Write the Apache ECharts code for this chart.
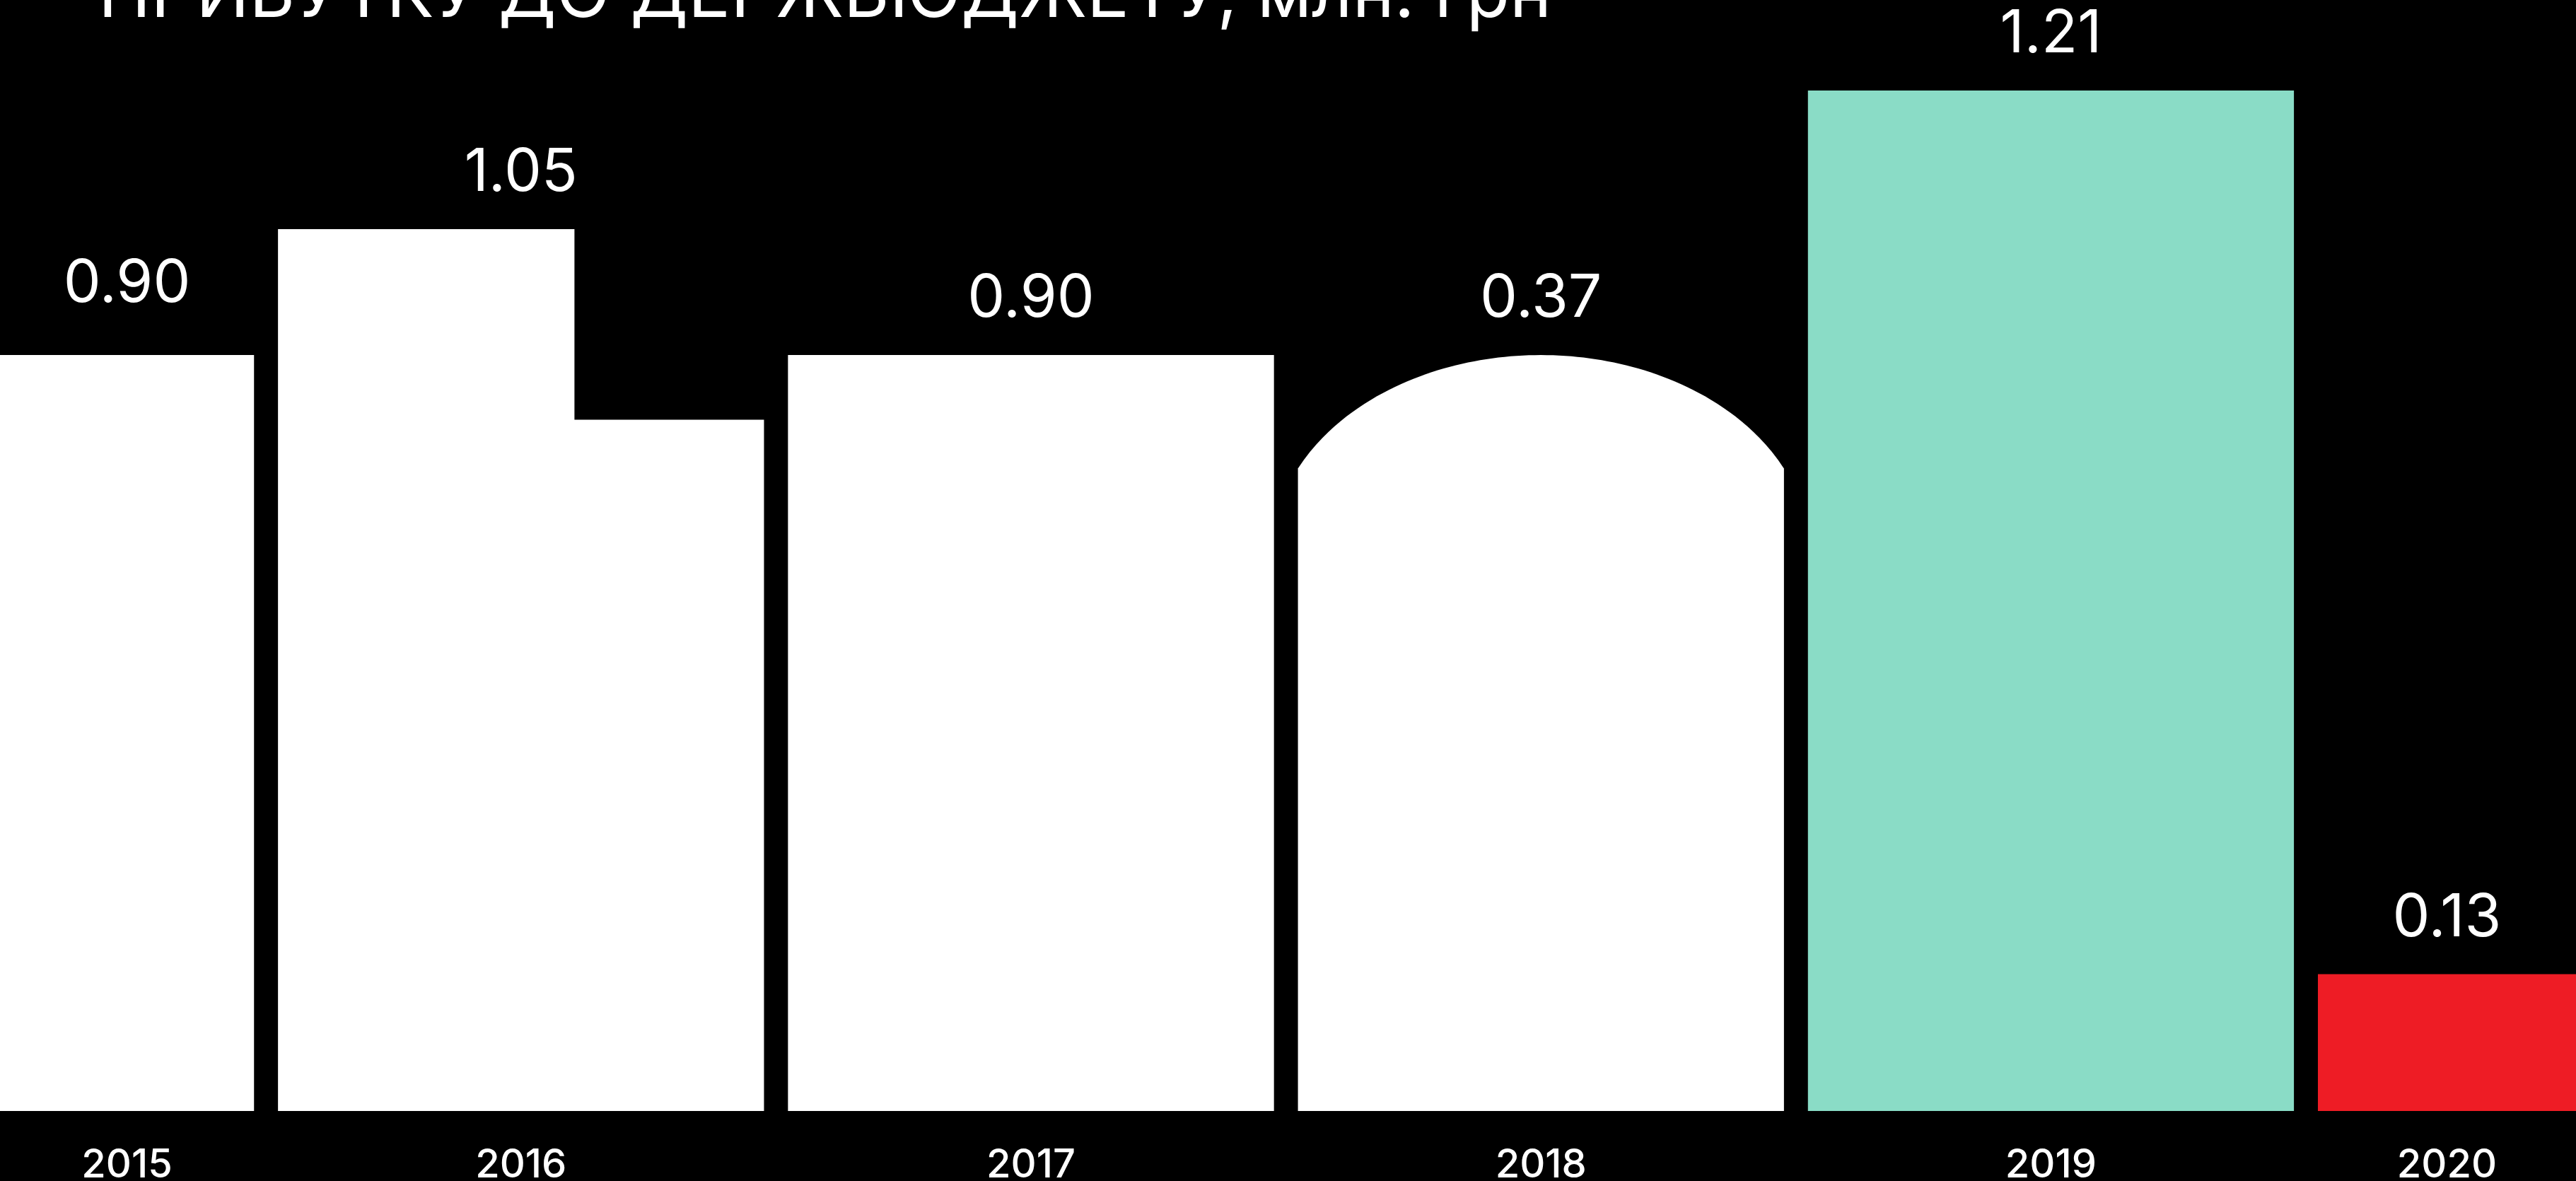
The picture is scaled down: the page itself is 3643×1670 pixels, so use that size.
<!DOCTYPE html>
<html>
<head>
<meta charset="utf-8">
<script src="https://cdn.jsdelivr.net/npm/echarts@6/dist/echarts.min.js"></script>
<style>
html,body{margin:0;padding:0;background:#000;}
#chart{width:3643px;height:1670px;}
</style>
</head>
<body>
<div id="chart"></div>
<script>
// ---- data ----
const categories = ['2015', '2016', '2017', '2018', '2019', '2020'];
// printed values, млн. грн
const values = [0.90, 1.05, 0.90, 0.37, 1.21, 0.13];
// height of each shape as drawn in the infographic (same units)
const drawnHeights = [0.90, 1.05, 0.90, 0.90, 1.215, 0.163];
// lower level of stepped / arched shapes (2016 step, 2018 arch shoulders)
const lowerHeights = [null, 0.823, null, 0.765, null, null];
const titleText = 'ПРИБУТКУ ДО ДЕРЖБЮДЖЕТУ, млн. грн';

// ---- style ----
const shapes = ['rect', 'step', 'rect', 'arch', 'rect', 'rect'];
const colors = ['#ffffff', '#ffffff', '#ffffff', '#ffffff', '#8ADCC6', '#EE1C25'];
const labelLift = [21, 0, 0, 0, 0, 0];
const FONT = 'Inter';

const chart = echarts.init(document.getElementById('chart'), null, {renderer: 'canvas'});

function renderItem(params, api) {
  const i = api.value(0);
  const top = api.value(1);
  const low = api.value(2);
  const val = api.value(3);
  const base = api.coord([i, 0]);
  const band = api.size([1, 0])[0];
  const w = band * 0.953;
  const xl = base[0] - w / 2, xr = base[0] + w / 2;
  const yB = base[1];
  const yT = api.coord([i, top])[1];
  const yL = api.coord([i, low])[1];
  const W = api.getWidth();
  const color = colors[i];
  const children = [];
  const kind = shapes[i];
  if (kind === 'rect') {
    children.push({type: 'rect', shape: {x: xl, y: yT, width: w, height: yB - yT}, style: {fill: color}});
  } else if (kind === 'step') {
    const xs = xl + w * 0.61;
    children.push({type: 'polygon', shape: {points: [[xl, yB], [xl, yT], [xs, yT], [xs, yL], [xr, yL], [xr, yB]]}, style: {fill: color}});
  } else if (kind === 'arch') {
    const half = w / 2, cx = base[0];
    const a = half * 1.108;
    const s = Math.sqrt(1 - Math.pow(half / a, 2));
    const rise = yL - yT;
    const b = rise / (1 - s);
    const pts = [[xl, yB], [xl, yL]];
    const N = 80;
    for (let k = 0; k <= N; k++) {
      const dx = -half + (2 * half) * k / N;
      const y = yL - (b * Math.sqrt(Math.max(0, 1 - Math.pow(dx / a, 2))) - b * s);
      pts.push([cx + dx, y]);
    }
    pts.push([xr, yL], [xr, yB]);
    children.push({type: 'polygon', shape: {points: pts}, style: {fill: color}});
  }
  const vcx = (Math.max(xl, 0) + Math.min(xr, W)) / 2;
  children.push({
    type: 'text',
    style: {
      x: vcx, y: yT - 79 - labelLift[i],
      text: val.toFixed(2),
      fill: '#ffffff', font: '400 84px ' + FONT,
      align: 'center', verticalAlign: 'middle'
    }
  });
  children.push({
    type: 'text',
    style: {
      x: vcx, y: yB + 77,
      text: categories[i],
      fill: '#ffffff', font: '500 56px ' + FONT,
      align: 'center', verticalAlign: 'middle'
    }
  });
  return {type: 'group', children: children};
}

const data = categories.map((c, i) => [i, drawnHeights[i], lowerHeights[i] == null ? drawnHeights[i] : lowerHeights[i], values[i]]);

chart.setOption({
  backgroundColor: '#000000',
  animation: false,
  title: {
    text: titleText,
    left: 139,
    top: -56,
    padding: 0,
    textStyle: {color: '#ffffff', fontFamily: FONT, fontWeight: 400, fontSize: 100}
  },
  grid: {left: 0, right: 0, top: 27, bottom: 99, containLabel: false},
  xAxis: {type: 'value', min: -0.0216, max: 5.0296, show: false},
  yAxis: {type: 'value', min: 0, max: 1.3, show: false},
  series: [{
    type: 'custom',
    renderItem: renderItem,
    clip: false,
    encode: {x: 0, y: 1},
    data: data
  }]
});
</script>
</body>
</html>
